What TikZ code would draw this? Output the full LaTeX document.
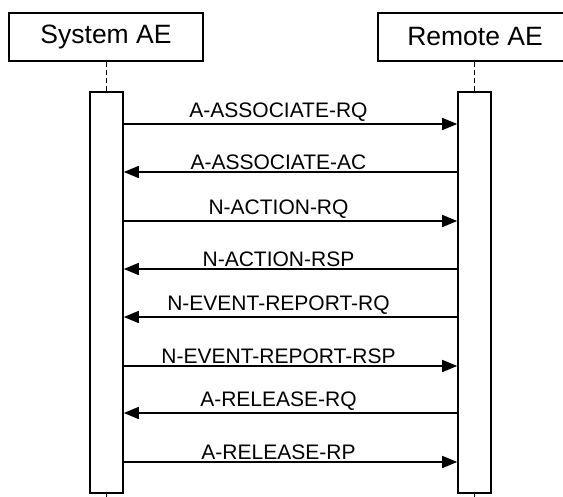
\documentclass[tikz,border=0pt]{standalone}
\usepackage{fontspec}
\setmainfont{Liberation Sans}
\usetikzlibrary{arrows.meta, positioning}

\tikzset{
  actor/.style={draw, line width=1.6pt, minimum width=194pt, minimum height=48pt,
    inner sep=0pt, font=\fontsize{26.5}{31}\selectfont},
  bar/.style={draw, line width=1.6pt, fill=white, minimum width=33pt,
    minimum height=401pt, inner sep=0pt},
  lifeline/.style={line width=1.6pt, dash pattern=on 5pt off 3pt},
  msg/.style={line width=1.6pt, -{Triangle[length=15pt, width=12pt]}},
  lbl/.style={above=1.5pt, inner sep=0pt, xshift=-12pt, font=\fontsize{21}{25}\selectfont}
}

\begin{document}
\begin{tikzpicture}[x=1pt, y=-1pt]
    \useasboundingbox (0,0) rectangle (563,497);
    \clip (0,0) rectangle (563,497);
    % the two application entities
    \node[actor] (sys) at (106,37) {System AE};
    \node[actor] (rem) at (475,37) {Remote AE};
    % activation bars
    \node[bar] (sysbar) at (106.5,292.5) {};
    \node[bar] (rembar) at (474.5,292.5) {};
    \coordinate (sysend) at (106.5,500);
    \coordinate (remend) at (474.5,500);
    % lifelines
    \draw[lifeline] (sys.south -| sysbar) -- (sysbar.north);
    \draw[lifeline] (rem.south -| rembar) -- (rembar.north);
    \draw[lifeline] (sysbar.south) -- (sysend);
    \draw[lifeline] (rembar.south) -- (remend);
    % messages
    \draw[msg] (sysbar.east |- 0,124) -- (rembar.west |- 0,124) node[midway, lbl] {A-ASSOCIATE-RQ};
    \draw[msg] (rembar.west |- 0,172) -- (sysbar.east |- 0,172) node[midway, lbl] {A-ASSOCIATE-AC};
    \draw[msg] (sysbar.east |- 0,221) -- (rembar.west |- 0,221) node[midway, lbl] {N-ACTION-RQ};
    \draw[msg] (rembar.west |- 0,269) -- (sysbar.east |- 0,269) node[midway, lbl] {N-ACTION-RSP};
    \draw[msg] (rembar.west |- 0,317) -- (sysbar.east |- 0,317) node[midway, lbl] {N-EVENT-REPORT-RQ};
    \draw[msg] (sysbar.east |- 0,366) -- (rembar.west |- 0,366) node[midway, lbl] {N-EVENT-REPORT-RSP};
    \draw[msg] (rembar.west |- 0,413) -- (sysbar.east |- 0,413) node[midway, lbl] {A-RELEASE-RQ};
    \draw[msg] (sysbar.east |- 0,462) -- (rembar.west |- 0,462) node[midway, lbl] {A-RELEASE-RP};
\end{tikzpicture}
\end{document}
